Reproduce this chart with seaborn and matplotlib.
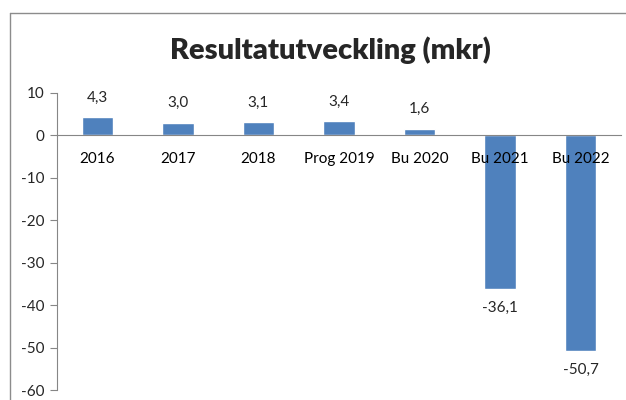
import numpy as np
import pandas as pd
import matplotlib.pyplot as plt
import seaborn as sns
from matplotlib.lines import Line2D

# data
categories = ['2016', '2017', '2018', 'Prog 2019', 'Bu 2020', 'Bu 2021', 'Bu 2022']
results = [4.3, 3.0, 3.1, 3.4, 1.6, -36.1, -50.7]
y_ticks = [10, 0, -10, -20, -30, -40, -50, -60]

sns.set_style('white')
plt.rcParams['font.family'] = ['Lato', 'DejaVu Sans']
plt.rcParams['axes.unicode_minus'] = False

df = pd.DataFrame({'Period': categories, 'Resultat': results})

fig = plt.figure(figsize=(6.26, 4.0), dpi=100)
ax = fig.add_axes([57 / 626, 1 - 390 / 400, (621 - 57) / 626, (390 - 93) / 400])

sns.barplot(data=df, x='Period', y='Resultat', color='#4F81BD', width=0.39,
            saturation=1, ax=ax)

ax.set_ylim(-60, 10)
ax.set_xlim(-0.5, len(categories) - 0.5)
ax.set_yticks(y_ticks)
ax.set_xlabel('')
ax.set_ylabel('')

# axis styling, x-axis sits on the zero line
grey = '#868686'
ax.spines['top'].set_visible(False)
ax.spines['right'].set_visible(False)
ax.spines['bottom'].set_position(('data', 0))
ax.spines['bottom'].set_color(grey)
ax.spines['left'].set_color(grey)
ax.tick_params(axis='x', which='major', length=0, pad=12, labelsize=11, colors='black')
ax.set_xticks(np.arange(-0.5, len(categories), 1), minor=True)
ax.tick_params(axis='x', which='minor', length=5, direction='out', color=grey)
ax.tick_params(axis='y', length=5, direction='out', color=grey, labelsize=11, pad=4)
ax.tick_params(axis='y', left=True)
# category labels are drawn on top of the bars
ax.xaxis.set_zorder(5)

# value labels with decimal comma
labels = [f'{v:.1f}'.replace('.', ',') for v in results]
ax.bar_label(ax.containers[0], labels=labels, padding=9, fontsize=11)

fig.text(330 / 626, 1 - 50 / 400, 'Resultatutveckling (mkr)', ha='center', va='center',
         fontsize=21, fontweight='heavy')

# chart border (only left and top edges are inside the image)
fig.lines.append(Line2D([10 / 626, 10 / 626], [0, 1 - 13 / 400], transform=fig.transFigure,
                        color='#8c8c8c', linewidth=1))
fig.lines.append(Line2D([10 / 626, 1], [1 - 13 / 400, 1 - 13 / 400], transform=fig.transFigure,
                        color='#8c8c8c', linewidth=1))

fig.savefig('out.png', dpi=100)
